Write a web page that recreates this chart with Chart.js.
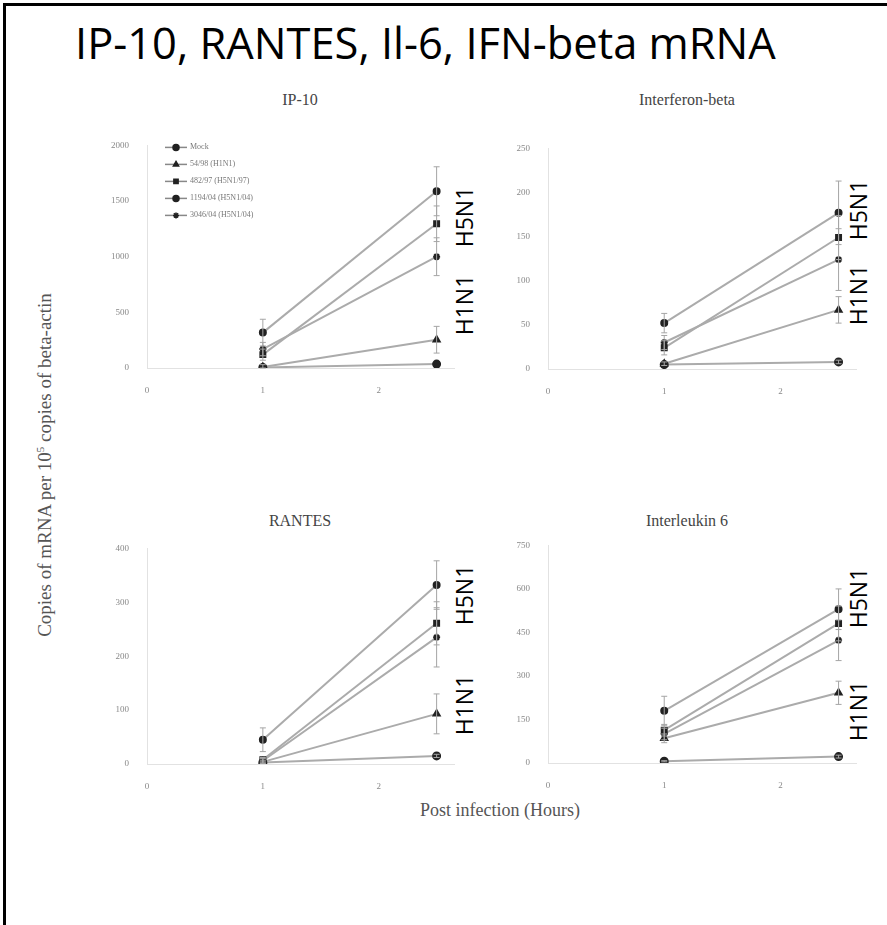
<!DOCTYPE html>
<html>
<head>
<meta charset="utf-8">
<script src="https://cdn.jsdelivr.net/npm/chart.js@4"></script>
<style>
  body { margin: 0; width: 887px; height: 925px; background: #fff; overflow: hidden; position: relative; }
  .frame-top { position: absolute; left: 3px; top: 3px; width: 884px; height: 3px; background: #000; }
  .frame-left { position: absolute; left: 3px; top: 3px; width: 3px; height: 922px; background: #000; }
  .title { position: absolute; left: 75px; top: 21px; font-family: 'Open Sans', sans-serif; color: #000; white-space: nowrap; line-height: 1; }
  .sub { position: absolute; transform: translate(-50%, -50%); font-family: 'Liberation Serif', serif; font-size: 16px; color: #444; white-space: nowrap; }
  .ylab { position: absolute; left: 45px; top: 465px; transform: translate(-50%, -50%) rotate(-90deg); font-family: 'Liberation Serif', serif; font-size: 19px; color: #555; white-space: nowrap; }
  .ylab sup { font-size: 11px; }
  .xlab { position: absolute; left: 500px; top: 810px; transform: translate(-50%, -50%); font-family: 'Liberation Serif', serif; font-size: 18px; color: #555; white-space: nowrap; }
  .strain { position: absolute; transform: translate(-50%, -50%) rotate(-90deg); font-family: 'Open Sans', sans-serif; font-size: 23px; color: #000; white-space: nowrap; }
  canvas { position: absolute; }
</style>
</head>
<body>
<div class="frame-top"></div>
<div class="frame-left"></div>
<div class="title" id="title">IP-10, RANTES, Il-6, IFN-beta mRNA</div>

<div class="sub" style="left:300px; top:100px">IP-10</div>
<div class="sub" style="left:687px; top:100px">Interferon-beta</div>
<div class="sub" style="left:300px; top:521px">RANTES</div>
<div class="sub" style="left:687px; top:521px">Interleukin 6</div>

<div class="ylab">Copies of mRNA per 10<sup>5</sup> copies of beta-actin</div>
<div class="xlab">Post infection (Hours)</div>

<div class="strain" style="left:464px; top:217px">H5N1</div>
<div class="strain" style="left:464px; top:305px">H1N1</div>
<div class="strain" style="left:858px; top:210px">H5N1</div>
<div class="strain" style="left:858px; top:295px">H1N1</div>
<div class="strain" style="left:464px; top:595px">H5N1</div>
<div class="strain" style="left:464px; top:705px">H1N1</div>
<div class="strain" style="left:858px; top:598px">H5N1</div>
<div class="strain" style="left:858px; top:711px">H1N1</div>

<canvas id="c1" width="363" height="268" style="left:97px; top:130px"></canvas>
<canvas id="c2" width="364" height="266" style="left:498px; top:133px"></canvas>
<canvas id="c3" width="363" height="261" style="left:97px; top:533px"></canvas>
<canvas id="c4" width="364" height="263" style="left:498px; top:530px"></canvas>

<script>
// data
const xTicks = [0, 1, 2];
const timePoints = [1, 2.5];
const seriesNames = ['Mock', '54/98 (H1N1)', '482/97 (H5N1/97)', '1194/04 (H5N1/04)', '3046/04 (H5N1/04)'];
const pointStyles = ['circle', 'triangle', 'rect', 'circle', 'star'];

const ip10Values = [[5, 35], [10, 254], [120, 1296], [318, 1588], [170, 1000]];
const ip10Errors = [[0, 0], [20, 120], [50, 160], [120, 220], [60, 170]];
const ip10Ticks = [0, 500, 1000, 1500, 2000];

const ifnbValues = [[5, 8], [6, 67], [24, 149], [52, 177], [30, 124]];
const ifnbErrors = [[0, 2], [2, 15], [8, 25], [11, 36], [8, 35]];
const ifnbTicks = [0, 50, 100, 150, 200, 250];

const rantesValues = [[3, 15], [4, 93], [8, 261], [45, 332], [6, 235]];
const rantesErrors = [[0, 3], [3, 37], [4, 40], [22, 45], [4, 55]];
const rantesTicks = [0, 100, 200, 300, 400];

const il6Values = [[6, 22], [85, 242], [113, 481], [180, 530], [100, 423]];
const il6Errors = [[2, 5], [15, 40], [20, 60], [50, 70], [20, 70]];
const il6Ticks = [0, 150, 300, 450, 600, 750];

// fit the big title to its width in the picture
const titleEl = document.getElementById('title');
let fs = 40;
titleEl.style.fontSize = fs + 'px';
fs = fs * 701 / titleEl.getBoundingClientRect().width;
titleEl.style.fontSize = fs + 'px';

const errorBars = {
    id: 'errorBars',
    afterDatasetsDraw(chart, args, opts) {
        const ctx = chart.ctx;
        const x = chart.scales.x, y = chart.scales.y;
        ctx.save();
        ctx.strokeStyle = '#a5a5a5';
        ctx.lineWidth = 1;
        opts.errors.forEach((errs, i) => {
            errs.forEach((e, j) => {
                if (!e) return;
                const v = chart.data.datasets[i].data[j].y;
                const px = x.getPixelForValue(timePoints[j]);
                const top = y.getPixelForValue(v + e);
                const bot = y.getPixelForValue(Math.max(v - e, 0));
                ctx.beginPath();
                ctx.moveTo(px, top); ctx.lineTo(px, bot);
                ctx.moveTo(px - 3, top); ctx.lineTo(px + 3, top);
                ctx.moveTo(px - 3, bot); ctx.lineTo(px + 3, bot);
                ctx.stroke();
            });
        });
        ctx.restore();
    }
};

const boxLegend = {
    id: 'boxLegend',
    afterDraw(chart, args, opts) {
        if (!opts.show) return;
        const ctx = chart.ctx;
        const x0 = chart.chartArea.left + 18;
        ctx.save();
        ctx.font = '8px "Liberation Serif"';
        ctx.textBaseline = 'middle';
        seriesNames.forEach((name, i) => {
            const yy = chart.chartArea.top + 2 + i * 17;
            ctx.strokeStyle = '#888';
            ctx.lineWidth = 1.5;
            ctx.beginPath();
            ctx.moveTo(x0, yy); ctx.lineTo(x0 + 22, yy);
            ctx.stroke();
            ctx.fillStyle = '#222';
            ctx.strokeStyle = '#222';
            Chart.helpers.drawPoint(ctx, { pointStyle: pointStyles[i], radius: 3, borderWidth: 1, rotation: 0 }, x0 + 11, yy);
            ctx.fillStyle = '#777';
            ctx.fillText(name, x0 + 25, yy);
        });
        ctx.restore();
    }
};

function makePanel(id, values, errors, yTicks, legend) {
    const datasets = values.map((vals, i) => ({
        label: seriesNames[i],
        data: vals.map((v, j) => ({ x: timePoints[j], y: v })),
        borderColor: '#ababab',
        borderWidth: 2,
        pointStyle: pointStyles[i],
        pointRadius: i === 3 ? 3 : 3.5,
        pointBackgroundColor: '#222',
        pointBorderColor: '#222',
        tension: 0
    }));
    new Chart(document.getElementById(id), {
        type: 'line',
        data: { datasets },
        plugins: [errorBars, boxLegend],
        options: {
            responsive: false,
            animation: false,
            layout: { padding: { top: 10, right: 0, left: 0, bottom: 0 } },
            plugins: {
                legend: { display: false },
                tooltip: { enabled: false },
                errorBars: { errors },
                boxLegend: { show: legend }
            },
            scales: {
                x: {
                    type: 'linear', min: 0, max: 2.65,
                    grid: { display: false },
                    border: { color: '#e2e2e2', width: 1 },
                    afterBuildTicks: s => { s.ticks = xTicks.map(v => ({ value: v })); },
                    afterFit: s => { s.height = 30; },
                    ticks: { font: { family: 'Liberation Serif', size: 9 }, color: '#888', padding: 9, callback: v => String(v) }
                },
                y: {
                    min: yTicks[0], max: yTicks[yTicks.length - 1],
                    grid: { display: false },
                    border: { color: '#e2e2e2', width: 1 },
                    afterBuildTicks: s => { s.ticks = yTicks.map(v => ({ value: v })); },
                    afterFit: s => { s.width = 50; },
                    ticks: { font: { family: 'Liberation Serif', size: 9 }, color: '#888', padding: 10, callback: v => String(v) }
                }
            }
        }
    });
}

makePanel('c1', ip10Values, ip10Errors, ip10Ticks, true);
makePanel('c2', ifnbValues, ifnbErrors, ifnbTicks, false);
makePanel('c3', rantesValues, rantesErrors, rantesTicks, false);
makePanel('c4', il6Values, il6Errors, il6Ticks, false);
</script>
</body>
</html>
